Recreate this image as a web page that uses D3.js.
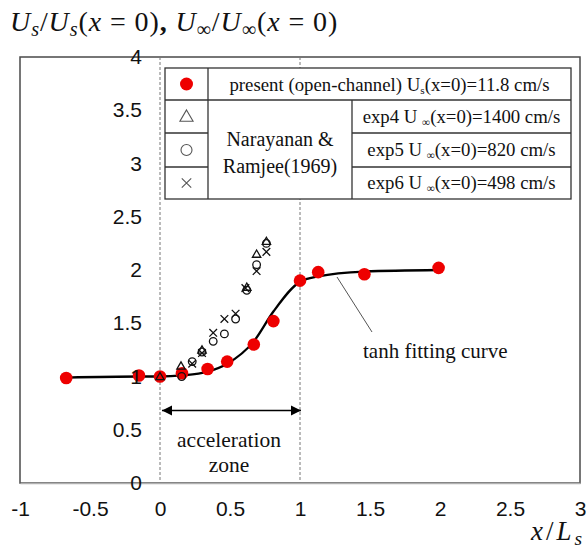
<!DOCTYPE html>
<html>
<head>
<meta charset="utf-8">
<script src="https://cdn.jsdelivr.net/npm/d3@7/dist/d3.min.js"></script>
<style>
  html, body { margin: 0; padding: 0; background: #fff; }
  svg { display: block; }
</style>
</head>
<body>
<svg id="chart" width="586" height="551"></svg>
<script>
// Present study (open channel): Us / Us(x=0)
const presentX = [-0.67, -0.15, 0.0, 0.157, 0.34, 0.48, 0.67, 0.81, 1.0, 1.13, 1.46, 1.99];
const presentY = [0.986, 1.01, 1.0, 1.03, 1.07, 1.14, 1.30, 1.52, 1.90, 1.98, 1.96, 2.02];

// tanh fit evaluated at the same stations
const fitX = [-0.67, -0.15, 0.0, 0.157, 0.34, 0.48, 0.67, 0.81, 1.0, 1.13, 1.46, 1.99];
const fitY = [0.99, 1.0, 1.0, 1.01, 1.045, 1.12, 1.33, 1.61, 1.89, 1.94, 1.985, 2.0];

// Narayanan & Ramjee (1969)
const exp4X = [0.0, 0.15, 0.30, 0.62, 0.69, 0.76];
const exp4Y = [1.0, 1.10, 1.25, 1.84, 2.15, 2.27];
const exp5X = [0.155, 0.23, 0.30, 0.38, 0.46, 0.54, 0.62, 0.69, 0.76];
const exp5Y = [1.0, 1.14, 1.23, 1.33, 1.40, 1.54, 1.81, 2.05, 2.25];
const exp6X = [0.23, 0.30, 0.38, 0.46, 0.54, 0.61, 0.69, 0.76];
const exp6Y = [1.12, 1.22, 1.41, 1.54, 1.59, 1.83, 1.99, 2.17];

const xTicks = [-1, -0.5, 0, 0.5, 1, 1.5, 2, 2.5, 3];
const yTicks = [0, 0.5, 1, 1.5, 2, 2.5, 3, 3.5, 4];

const legendLabels = [
  "present (open-channel) U|s|(x=0)=11.8 cm/s",
  "exp4 U |∞|(x=0)=1400 cm/s",
  "exp5 U |∞|(x=0)=820 cm/s",
  "exp6 U |∞|(x=0)=498 cm/s"
];
const groupLabel = ["Narayanan &", "Ramjee(1969)"];

const svg = d3.select("#chart");
const serif = "'Liberation Serif', 'Times New Roman', serif";
const sans = "'Liberation Sans', Arial, sans-serif";

const x = d3.scaleLinear().domain([-1, 3]).range([20, 580]);
const y = d3.scaleLinear().domain([0, 4]).range([483, 57]);

// plot frame
svg.append("rect")
  .attr("x", x(-1)).attr("y", y(4))
  .attr("width", x(3) - x(-1)).attr("height", y(0) - y(4))
  .attr("fill", "#fff").attr("stroke", "#4a4a4a").attr("stroke-width", 1.5);

// dashed guides bounding the acceleration zone
[0, 1].forEach(v => {
  svg.append("line")
    .attr("x1", x(v)).attr("x2", x(v))
    .attr("y1", y(4)).attr("y2", y(0))
    .attr("stroke", "#777").attr("stroke-width", 1)
    .attr("stroke-dasharray", "3,2");
});

// x axis
const xAxis = svg.append("g")
  .attr("transform", `translate(0,${y(0)})`)
  .call(d3.axisBottom(x).tickValues(xTicks).tickSize(0).tickPadding(18)
    .tickFormat(d => String(d)));
xAxis.select(".domain").attr("stroke", "#b0b0b0").attr("stroke-width", 1.5);
xAxis.selectAll("text").attr("font-family", sans).attr("font-size", 21).attr("fill", "#111");

// fit curve
const fitData = fitX.map((v, i) => [v, fitY[i]]);
svg.append("path")
  .datum(fitData)
  .attr("d", d3.line().x(d => x(d[0])).y(d => y(d[1])).curve(d3.curveMonotoneX))
  .attr("fill", "none").attr("stroke", "#000").attr("stroke-width", 2.3);

// present data
svg.append("g").selectAll("circle")
  .data(presentX.map((v, i) => [v, presentY[i]]))
  .join("circle")
  .attr("cx", d => x(d[0])).attr("cy", d => y(d[1]))
  .attr("r", 6.3).attr("fill", "#ee0000");

// Narayanan & Ramjee symbols
const triPath = d3.symbol().type(d3.symbolTriangle).size(30)();
svg.append("g").selectAll("path")
  .data(exp4X.map((v, i) => [v, exp4Y[i]]))
  .join("path")
  .attr("d", triPath)
  .attr("transform", d => `translate(${x(d[0])},${y(d[1]) + 0.8})`)
  .attr("fill", "none").attr("stroke", "#111").attr("stroke-width", 1.3);

svg.append("g").selectAll("circle")
  .data(exp5X.map((v, i) => [v, exp5Y[i]]))
  .join("circle")
  .attr("cx", d => x(d[0])).attr("cy", d => y(d[1]))
  .attr("r", 3.8).attr("fill", "none").attr("stroke", "#111").attr("stroke-width", 1.3);

const crossPath = d3.symbol().type(d3.symbolX).size(40)();
svg.append("g").selectAll("path")
  .data(exp6X.map((v, i) => [v, exp6Y[i]]))
  .join("path")
  .attr("d", crossPath)
  .attr("transform", d => `translate(${x(d[0])},${y(d[1])})`)
  .attr("fill", "none").attr("stroke", "#111").attr("stroke-width", 1.3);

// y axis labels (drawn over the data)
const yAxis = svg.append("g")
  .attr("transform", `translate(${x(0)},0)`)
  .call(d3.axisLeft(y).tickValues(yTicks).tickSize(0).tickPadding(18)
    .tickFormat(d => String(d)));
yAxis.select(".domain").remove();
yAxis.selectAll("text").attr("font-family", sans).attr("font-size", 21).attr("fill", "#111");

// acceleration-zone double arrow
const defs = svg.append("defs");
defs.append("marker").attr("id", "headEnd")
  .attr("viewBox", "0 0 10 10").attr("refX", 10).attr("refY", 5)
  .attr("markerWidth", 10).attr("markerHeight", 14).attr("markerUnits", "userSpaceOnUse")
  .attr("orient", "auto")
  .append("path").attr("d", "M0,0 L10,5 L0,10 Z").attr("fill", "#000");
defs.append("marker").attr("id", "headStart")
  .attr("viewBox", "0 0 10 10").attr("refX", 10).attr("refY", 5)
  .attr("markerWidth", 10).attr("markerHeight", 14).attr("markerUnits", "userSpaceOnUse")
  .attr("orient", "auto-start-reverse")
  .append("path").attr("d", "M0,0 L10,5 L0,10 Z").attr("fill", "#000");
svg.append("line")
  .attr("x1", x(0) + 2).attr("x2", x(1) + 1)
  .attr("y1", 410.5).attr("y2", 410.5)
  .attr("stroke", "#000").attr("stroke-width", 1.3)
  .attr("marker-start", "url(#headStart)").attr("marker-end", "url(#headEnd)");

svg.append("text").attr("x", 229).attr("y", 447)
  .attr("text-anchor", "middle").attr("font-family", serif).attr("font-size", 21.5)
  .attr("fill", "#111").text("acceleration");
svg.append("text").attr("x", 229).attr("y", 472)
  .attr("text-anchor", "middle").attr("font-family", serif).attr("font-size", 21.5)
  .attr("fill", "#111").text("zone");

// fit curve annotation
svg.append("line")
  .attr("x1", 337).attr("y1", 277).attr("x2", 372).attr("y2", 332)
  .attr("stroke", "#555").attr("stroke-width", 1);
svg.append("text").attr("x", 363).attr("y", 358)
  .attr("font-family", serif).attr("font-size", 21).attr("fill", "#111")
  .text("tanh fitting curve");

// legend table
const L = { x0: 165, c1: 208, c2: 352, x1: 571, rows: [68, 100, 133, 167, 199] };
const leg = svg.append("g");
leg.append("rect").attr("x", L.x0).attr("y", L.rows[0])
  .attr("width", L.x1 - L.x0).attr("height", L.rows[4] - L.rows[0])
  .attr("fill", "#fff").attr("stroke", "#333").attr("stroke-width", 1.3);
const gridStroke = s => s.attr("stroke", "#333").attr("stroke-width", 1.3);
leg.append("line").attr("x1", L.c1).attr("x2", L.c1).attr("y1", L.rows[0]).attr("y2", L.rows[4]).call(gridStroke);
leg.append("line").attr("x1", L.c2).attr("x2", L.c2).attr("y1", L.rows[1]).attr("y2", L.rows[4]).call(gridStroke);
leg.append("line").attr("x1", L.x0).attr("x2", L.x1).attr("y1", L.rows[1]).attr("y2", L.rows[1]).call(gridStroke);
[2, 3].forEach(r => {
  leg.append("line").attr("x1", L.x0).attr("x2", L.c1).attr("y1", L.rows[r]).attr("y2", L.rows[r]).call(gridStroke);
  leg.append("line").attr("x1", L.c2).attr("x2", L.x1).attr("y1", L.rows[r]).attr("y2", L.rows[r]).call(gridStroke);
});

const symX = (L.x0 + L.c1) / 2;
const rowMid = r => (L.rows[r] + L.rows[r + 1]) / 2;
leg.append("circle").attr("cx", symX).attr("cy", rowMid(0)).attr("r", 6.5).attr("fill", "#ee0000");
leg.append("path").attr("d", d3.symbol().type(d3.symbolTriangle).size(75)())
  .attr("transform", `translate(${symX},${rowMid(1) + 1})`)
  .attr("fill", "none").attr("stroke", "#555").attr("stroke-width", 1.1);
leg.append("circle").attr("cx", symX).attr("cy", rowMid(2)).attr("r", 5.5)
  .attr("fill", "none").attr("stroke", "#555").attr("stroke-width", 1.1);
leg.append("path").attr("d", d3.symbol().type(d3.symbolX).size(60)())
  .attr("transform", `translate(${symX},${rowMid(3)})`)
  .attr("fill", "none").attr("stroke", "#555").attr("stroke-width", 1.1);

// text with "|sub|" segments rendered as subscripts
function richLabel(g, str, cx, cy, size) {
  const t = g.append("text").attr("x", cx).attr("y", cy)
    .attr("text-anchor", "middle").attr("font-family", serif)
    .attr("font-size", size).attr("fill", "#111");
  const parts = str.split("|");
  let shifted = false;
  parts.forEach((p, i) => {
    if (!p) return;
    const sub = i % 2 === 1;
    const ts = t.append("tspan").text(p);
    if (sub) { ts.attr("font-size", size * 0.6).attr("dy", 3); shifted = true; }
    else if (shifted) { ts.attr("dy", -3); shifted = false; }
  });
  return t;
}
richLabel(leg, legendLabels[0], (L.c1 + L.x1) / 2, 91, 18.8);
richLabel(leg, legendLabels[1], (L.c2 + L.x1) / 2, 123, 18.8);
richLabel(leg, legendLabels[2], (L.c2 + L.x1) / 2, 156, 18.8);
richLabel(leg, legendLabels[3], (L.c2 + L.x1) / 2, 189, 18.8);
leg.append("text").attr("x", (L.c1 + L.c2) / 2).attr("y", 146)
  .attr("text-anchor", "middle").attr("font-family", serif).attr("font-size", 20)
  .attr("fill", "#111").text(groupLabel[0]);
leg.append("text").attr("x", (L.c1 + L.c2) / 2).attr("y", 173)
  .attr("text-anchor", "middle").attr("font-family", serif).attr("font-size", 20)
  .attr("fill", "#111").text(groupLabel[1]);

// math-style axis titles
function mathText(parts, xPos, yPos, size, anchor, spacing) {
  const t = svg.append("text").attr("x", xPos).attr("y", yPos)
    .attr("text-anchor", anchor).attr("font-family", serif)
    .attr("font-size", size).attr("fill", "#111")
    .attr("letter-spacing", spacing);
  let shifted = 0;
  parts.forEach(p => {
    const ts = t.append("tspan").text(p.t)
      .attr("font-style", p.i ? "italic" : "normal");
    if (p.b) ts.attr("font-weight", "bold");
    if (p.s) {
      ts.attr("font-size", size * 0.72).attr("dy", 5 - shifted);
      shifted = 5;
    } else if (shifted) {
      ts.attr("dy", -shifted);
      shifted = 0;
    }
  });
}
mathText([
  { t: "U", i: 1 }, { t: "s", i: 1, s: 1 }, { t: "/" }, { t: "U", i: 1 }, { t: "s", i: 1, s: 1 },
  { t: "(" }, { t: "x", i: 1 }, { t: " = 0)" }, { t: ", ", b: 1 },
  { t: "U", i: 1 }, { t: "∞", s: 1 }, { t: "/" }, { t: "U", i: 1 }, { t: "∞", s: 1 },
  { t: "(" }, { t: "x", i: 1 }, { t: " = 0)" }
], 10, 31, 28, "start", 0.9);

mathText([
  { t: "x", i: 1 }, { t: "/" }, { t: "L", i: 1 }, { t: "s", i: 1, s: 1 }
], 585, 540, 27, "end", 3);
</script>
</body>
</html>
